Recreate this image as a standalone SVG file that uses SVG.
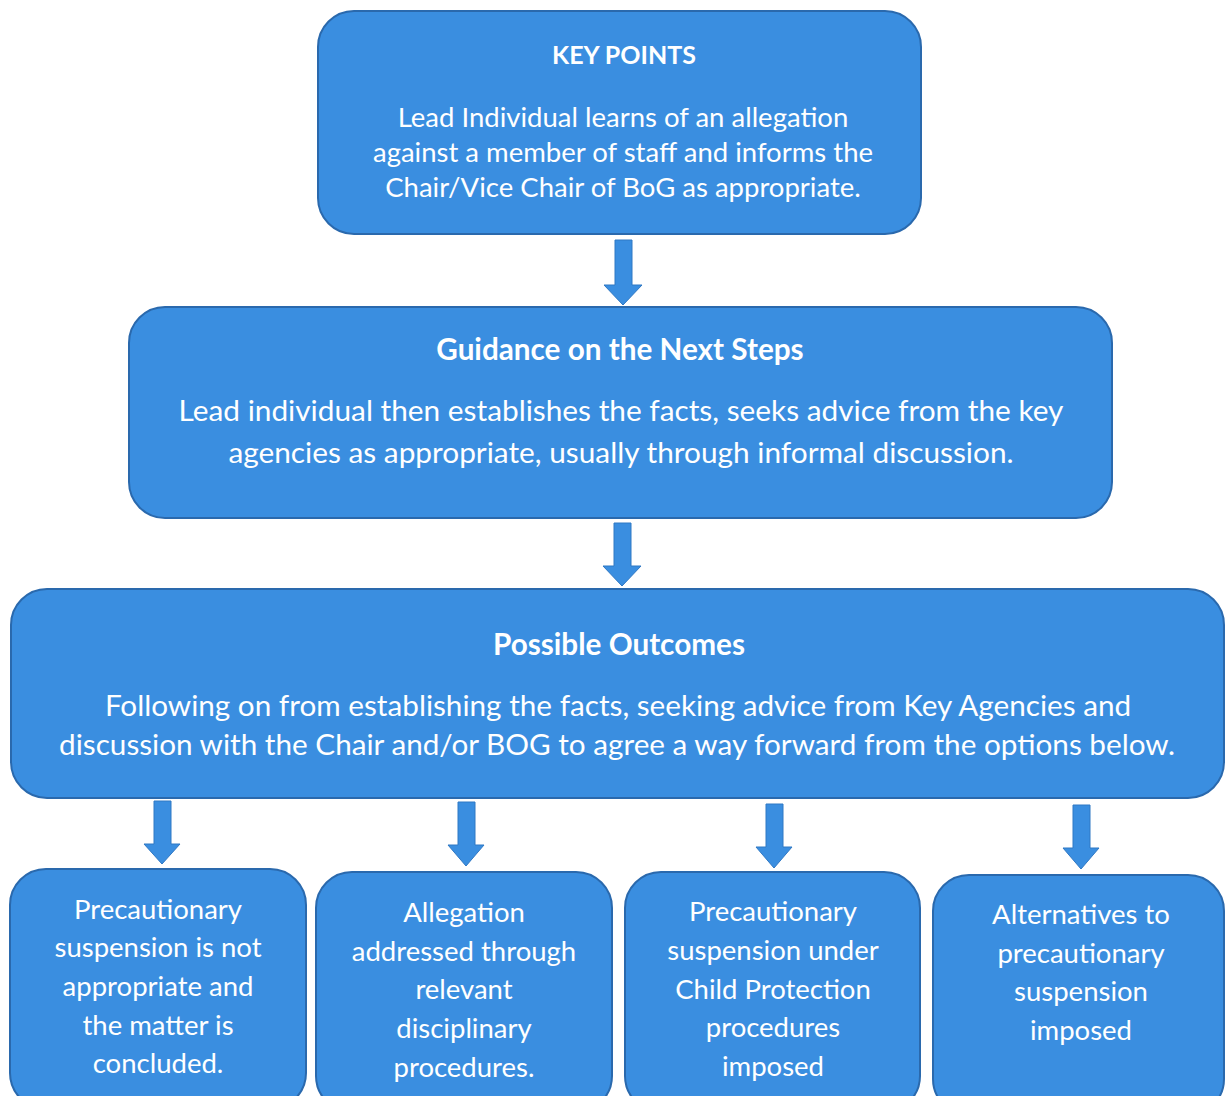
<svg xmlns="http://www.w3.org/2000/svg" width="1226" height="1096" viewBox="0 0 1226 1096">
<defs>
<style>
.box{fill:#3a8ee0;stroke:#2a69ad;stroke-width:2}
.arr{fill:#3a8ee0;stroke:#2f78c4;stroke-width:1}
text{font-family:Lato,"Open Sans","Liberation Sans",sans-serif;fill:#ffffff;text-anchor:middle}
.t{font-weight:bold;font-size:25px}
.b1{font-size:27.5px}
.b2{font-size:29.8px}
.b3{font-size:29.7px}
.s{font-size:27.5px}
</style>
</defs>
<rect width="1226" height="1096" fill="#ffffff"/>
<g id="connectors">
<path class="arr" d="M615,240 H632 V285 H642 L623,305 L604,285 H615 Z"/>
<path class="arr" d="M614,523 H631 V566 H641 L622,586 L603,566 H614 Z"/>
<path class="arr" d="M154,801 H171 V844 H180 L162,864 L144,844 H154 Z"/>
<path class="arr" d="M458,802 H475 V845 H484 L466,866 L448,845 H458 Z"/>
<path class="arr" d="M766,804 H783 V847 H792 L774,868 L756,847 H766 Z"/>
<path class="arr" d="M1073,805 H1090 V848 H1099 L1081,869 L1063,848 H1073 Z"/>
</g>
<g id="key-points">
<rect class="box" x="318" y="11" width="603" height="223" rx="36"/>
<text class="t" x="624" y="64">KEY POINTS</text>
<text class="b1" x="623" y="127">Lead Individual learns of an allegation</text>
<text class="b1" x="623" y="162">against a member of staff and informs the</text>
<text class="b1" x="623" y="197">Chair/Vice Chair of BoG as appropriate.</text>
</g>
<g id="guidance">
<rect class="box" x="129" y="307" width="983" height="211" rx="36"/>
<text class="t" x="620" y="360" style="font-size:29.7px">Guidance on the Next Steps</text>
<text class="b2" x="621" y="421">Lead individual then establishes the facts, seeks advice from the key</text>
<text class="b2" x="621" y="463">agencies as appropriate, usually through informal discussion.</text>
</g>
<g id="outcomes">
<rect class="box" x="11" y="589" width="1213" height="209" rx="36"/>
<text class="t" x="619" y="655" style="font-size:29.7px">Possible Outcomes</text>
<text class="b3" x="618" y="716">Following on from establishing the facts, seeking advice from Key Agencies and</text>
<text class="b3" x="617" y="755">discussion with the Chair and/or BOG to agree a way forward from the options below.</text>
</g>
<g id="outcome-1">
<rect class="box" x="10" y="869" width="296" height="240" rx="36"/>
<text class="s" x="158" y="919">Precautionary</text>
<text class="s" x="158" y="957">suspension is not</text>
<text class="s" x="158" y="996">appropriate and</text>
<text class="s" x="158" y="1035">the matter is</text>
<text class="s" x="158" y="1073">concluded.</text>
</g>
<g id="outcome-2">
<rect class="box" x="316" y="872" width="296" height="240" rx="36"/>
<text class="s" x="464" y="922">Allegation</text>
<text class="s" x="464" y="961">addressed through</text>
<text class="s" x="464" y="999">relevant</text>
<text class="s" x="464" y="1038">disciplinary</text>
<text class="s" x="464" y="1077">procedures.</text>
</g>
<g id="outcome-3">
<rect class="box" x="625" y="872" width="295" height="240" rx="36"/>
<text class="s" x="773" y="921">Precautionary</text>
<text class="s" x="773" y="960">suspension under</text>
<text class="s" x="773" y="999">Child Protection</text>
<text class="s" x="773" y="1037">procedures</text>
<text class="s" x="773" y="1076">imposed</text>
</g>
<g id="outcome-4">
<rect class="box" x="933" y="875" width="291" height="240" rx="36"/>
<text class="s" x="1081" y="924">Alternatives to</text>
<text class="s" x="1081" y="963">precautionary</text>
<text class="s" x="1081" y="1001">suspension</text>
<text class="s" x="1081" y="1040">imposed</text>
</g>
</svg>
